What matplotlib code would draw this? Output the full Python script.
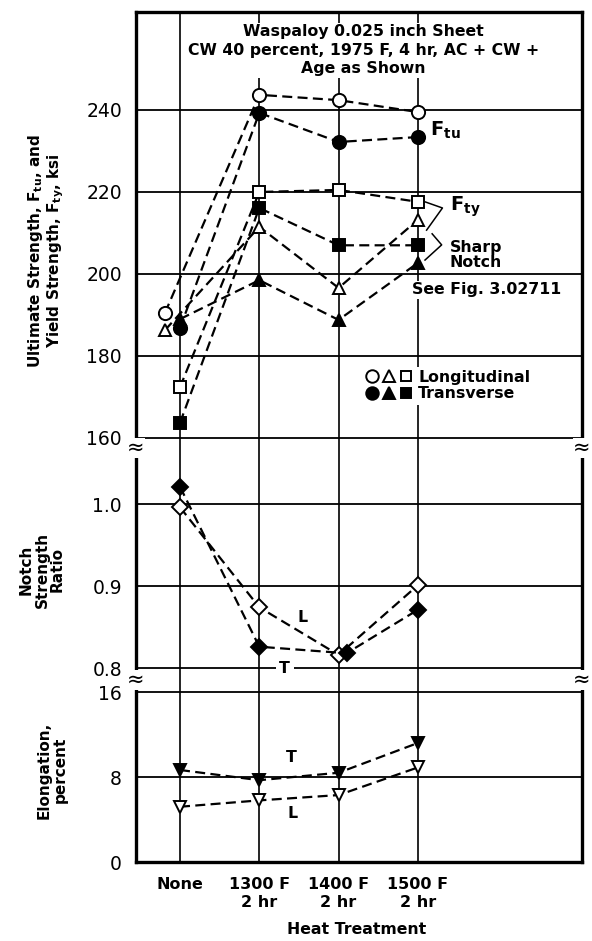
import matplotlib
matplotlib.use("Agg")
import matplotlib.pyplot as plt
from matplotlib.lines import Line2D
from matplotlib.legend_handler import HandlerTuple

W, H = 592, 941
DPI = 100

categories = ["None", "1300 F\n2 hr", "1400 F\n2 hr", "1500 F\n2 hr"]

# strength, ksi
ftu_long = [190.5, 243.7, 242.4, 239.5]
ftu_trans = [186.8, 239.3, 232.2, 233.4]
fty_long = [172.4, 220.0, 220.5, 217.6]
fty_trans = [163.7, 216.1, 207.0, 207.0]
notch_long = [186.3, 211.5, 196.6, 213.2]
notch_trans = [189.0, 198.5, 188.8, 202.7]

# notch strength ratio
nsr_long = [0.996, 0.874, 0.816, 0.901]
nsr_trans = [1.021, 0.826, 0.818, 0.871]

# elongation, percent
elong_long = [5.2, 5.8, 6.3, 8.9]
elong_trans = [8.66, 7.7, 8.4, 11.2]

strength_ticks = [160, 180, 200, 220, 240]
nsr_ticks = [0.8, 0.9, 1.0]
elong_ticks = [0, 8, 16]

# small sideways shifts so overlapping points stay readable
shift_open_none = [-0.19, 0.0, 0.0, 0.0]
shift_nsr_trans = [0.0, 0.0, 0.1, 0.0]

BOLD = dict(fontweight="bold", family="DejaVu Sans")
DASH = (0, (4.5, 2.4))


def px_rect(x0, y0, x1, y1):
    return [x0 / W, 1 - y1 / H, (x1 - x0) / W, (y1 - y0) / H]


fig = plt.figure(figsize=(W / DPI, H / DPI), dpi=DPI)
ax_top = fig.add_axes(px_rect(136, 12, 582, 448))
ax_mid = fig.add_axes(px_rect(136, 448, 582, 680))
ax_low = fig.add_axes(px_rect(136, 680, 582, 862))

x = list(range(len(categories)))
xlim = (-0.555, 5.07)

for ax, lim, ticks, fmt in [
    (ax_top, (157.56, 263.9), strength_ticks, "{:d}"),
    (ax_mid, (0.7854, 1.0683), nsr_ticks, "{:.1f}"),
    (ax_low, (0, 17.13), elong_ticks, "{:d}"),
]:
    ax.set_xlim(*xlim)
    ax.set_ylim(*lim)
    ax.set_yticks(ticks)
    ax.set_yticklabels([fmt.format(t) for t in ticks], fontsize=13.5)
    ax.tick_params(axis="y", length=0, pad=10)
    ax.tick_params(axis="x", length=0)
    ax.set_xticks([])
    for t in ticks:
        ax.axhline(t, color="black", lw=1.3, zorder=1)
    for xi in x:
        ax.axvline(xi, color="black", lw=1.2, zorder=1)
    for side in ("left", "right"):
        ax.spines[side].set_linewidth(2.4)
    ax.spines["top"].set_visible(False)
    ax.spines["bottom"].set_visible(False)

ax_top.spines["top"].set_visible(True)
ax_top.spines["top"].set_linewidth(2.4)
ax_low.spines["bottom"].set_visible(True)
ax_low.spines["bottom"].set_linewidth(2.4)

ax_low.set_xticks(x)
ax_low.set_xticklabels(categories, fontsize=11.5, fontweight="bold", linespacing=1.25)
ax_low.tick_params(axis="x", pad=11)


def series(ax, xs, ys, marker, filled, ms):
    ax.plot(xs, ys, linestyle=DASH, color="black", lw=1.6,
            marker=marker, ms=ms, mew=1.4, mec="black",
            mfc="black" if filled else "white", zorder=5, clip_on=False)


x_open_none = [a + b for a, b in zip(x, shift_open_none)]
series(ax_top, x_open_none, ftu_long, "o", False, 9.5)
series(ax_top, x, ftu_trans, "o", True, 9.5)
series(ax_top, x, fty_long, "s", False, 8)
series(ax_top, x, fty_trans, "s", True, 8)
series(ax_top, x_open_none, notch_long, "^", False, 9)
series(ax_top, x, notch_trans, "^", True, 9)

series(ax_mid, x, nsr_long, "D", False, 8.5)
series(ax_mid, [a + b for a, b in zip(x, shift_nsr_trans)], nsr_trans, "D", True, 8.5)

series(ax_low, x, elong_long, "v", False, 9)
series(ax_low, x, elong_trans, "v", True, 9)

box = dict(facecolor="white", edgecolor="none", pad=1.0)

ax_top.text(2.31, 254.6, "Waspaloy 0.025 inch Sheet\nCW 40 percent, 1975 F, 4 hr, AC + CW +\nAge as Shown",
            ha="center", va="center", fontsize=11.3, linespacing=1.3, bbox=box, zorder=3, **BOLD)
ax_top.text(3.15, 235.1, r"$\mathbf{F_{tu}}$", ha="left", va="center", fontsize=14, zorder=3)
ax_top.text(3.40, 216.3, r"$\mathbf{F_{ty}}$", ha="left", va="center", fontsize=14, zorder=3)
ax_top.text(3.40, 204.6, "Sharp\nNotch", ha="left", va="center", fontsize=11.3,
            linespacing=1.0, bbox=box, zorder=3, **BOLD)
ax_top.text(2.93, 196.1, "See Fig. 3.02711", ha="left", va="center", fontsize=11.3,
            bbox=box, zorder=3, **BOLD)

# braces tying the 1500 F points to their labels
ax_top.plot([3.09, 3.31, 3.11], [217.6, 216.1, 210.7], color="black", lw=1.1, zorder=3)
ax_top.plot([3.18, 3.30, 3.09], [209.8, 207.1, 203.4], color="black", lw=1.1, zorder=3)

open_handles = tuple(Line2D([], [], ls="none", marker=m, ms=ms, mfc="white", mec="black", mew=1.4)
                     for m, ms in [("o", 9), ("^", 8.5), ("s", 7.5)])
fill_handles = tuple(Line2D([], [], ls="none", marker=m, ms=ms, mfc="black", mec="black", mew=1.4)
                     for m, ms in [("o", 9), ("^", 8.5), ("s", 7.5)])
leg = ax_top.legend([open_handles, fill_handles], ["Longitudinal", "Transverse"],
                    handler_map={tuple: HandlerTuple(ndivide=None, pad=0.2)},
                    handlelength=3.0, handletextpad=0.35, labelspacing=0.1, borderpad=0.2,
                    loc="center left", bbox_to_anchor=(0.49, 0.143),
                    frameon=True, framealpha=1, edgecolor="none", fancybox=False,
                    prop=dict(size=11.3, weight="bold"))
leg.set_zorder(3)

ax_mid.text(1.54, 0.862, "L", ha="center", va="center", fontsize=11.3, zorder=3, **BOLD)
ax_mid.text(1.32, 0.800, "T", ha="center", va="center", fontsize=11.3,
            bbox=dict(facecolor="white", edgecolor="none", pad=2.5), zorder=3, **BOLD)
ax_low.text(1.40, 9.8, "T", ha="center", va="center", fontsize=11.3, zorder=3, **BOLD)
ax_low.text(1.42, 4.6, "L", ha="center", va="center", fontsize=11.3, zorder=3, **BOLD)

# axis break marks on both frame edges
for yb in (448, 680):
    for xb in (136, 582):
        fig.text(xb / W, 1 - yb / H, "≈", ha="center", va="center", fontsize=15,
                 bbox=dict(facecolor="white", edgecolor="none", pad=0.0), zorder=10)

fig.text(46 / W, 1 - 251 / H,
         r"Ultimate Strength, $\mathbf{F_{tu}}$, and" + "\n" + r"Yield Strength, $\mathbf{F_{ty}}$, ksi",
         rotation=90, ha="center", va="center", fontsize=11, linespacing=1.05, **BOLD)
fig.text(42 / W, 1 - 570 / H, "Notch\nStrength\nRatio", rotation=90, ha="center", va="center",
         fontsize=11, linespacing=1.05, **BOLD)
fig.text(52 / W, 1 - 770 / H, "Elongation,\npercent", rotation=90, ha="center", va="center",
         fontsize=11, linespacing=1.05, **BOLD)
fig.text(357 / W, 1 - 930 / H, "Heat Treatment", ha="center", va="center", fontsize=11.3, **BOLD)

fig.savefig("out.png", dpi=DPI)
